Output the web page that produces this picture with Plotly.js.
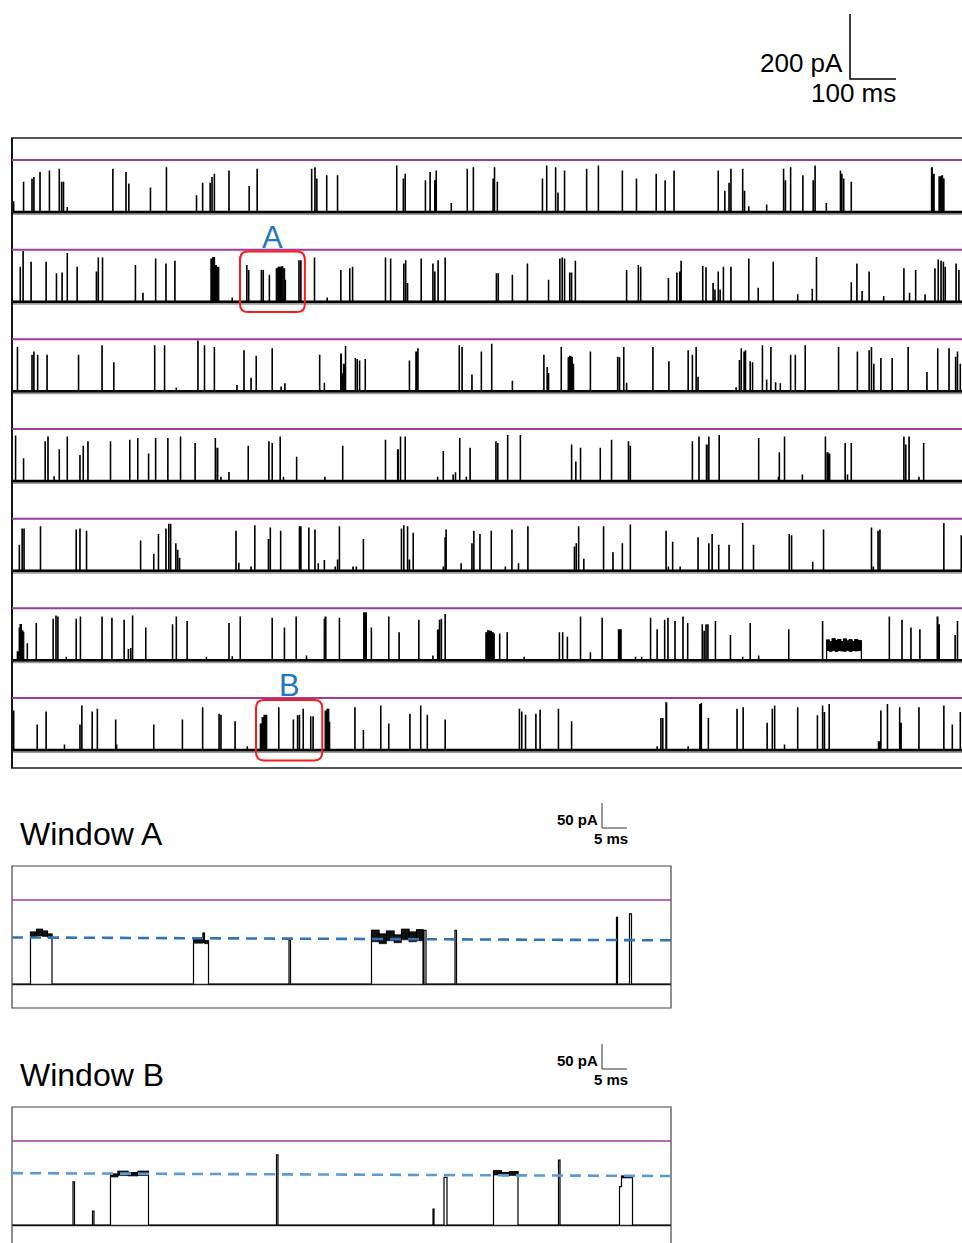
<!DOCTYPE html>
<html><head><meta charset="utf-8">
<script src="https://cdn.plot.ly/plotly-3.0.1.min.js"></script>
<style>html,body{margin:0;padding:0;background:#fff}#chart{width:962px;height:1243px}</style>
</head><body><div id="chart"></div>
<script>
// ---- DATA: channel openings: [start ms, amplitude pA, duration ms (default 1)]
const row1=[[1,31],[22,91],[40,101],[44,106],[57,121],[77,126],[98,131],[103,91],[107,91],[115,14],
[212,131],[240,121],[246,86],[292,74],[326,136],[390,50],[403,88],[419,88],[423,106],[428,116],
[459,126],[502,78],[519,131],[635,131],[642,136],[646,101],[667,111],[690,111],[816,141],[830,101],
[834,116],[877,96],[887,121],[897,96],[900,126],[932,26],[966,131],[979,136],[1021,101],[1024,136],
[1030,91],[1126,101],[1135,141],[1154,136],[1159,58],[1173,126],[1220,131],[1245,141],[1296,126],[1326,101],
[1368,116],[1387,96],[1406,126],[1500,126],[1514,64],[1523,88],[1527,131],[1552,131],[1556,64],[1565,16],
[1603,21],[1639,131],[1643,96],[1654,136],[1680,111],[1702,96],[1706,141],[1730,26],[1760,126],[1763,116],
[1767,101],[1783,91],[1954,136,2],[1957,116,3],[1970,108,3],[1973,108,3],[1976,111,2],[1979,101,2]];
const row2=[[15,106],[21,154],[38,121],[70,121],[92,86],[104,88],[115,148],[136,106],[177,91],[181,134],[190,134],
[260,111],[276,26],[303,131],[325,116],[344,124],
[421,131,4],[425,136,4],[429,111,4],[433,106,3],[436,106,2],
[466,11],[497,111],[501,96],[528,96],[532,96],[545,81],
[560,101,3],[564,106,3],[568,106,3],[571,108,3],[575,101,3],[579,66,1],
[608,126],[612,126],[641,134],[668,11],[697,96],[716,101],[722,106],[792,134],[803,131],
[831,116],[835,126],[839,56],[868,131],[893,116],[897,91],[904,126],[919,134],
[1028,86],[1032,86],[1062,81],[1094,116],[1139,66],[1163,131],[1168,134],[1173,131],[1184,88],[1188,88],[1196,124],
[1305,96],[1330,111],[1335,106],[1394,71],[1412,88],[1418,91],[1421,124],[1467,108],[1474,104],
[1489,56],[1493,36],[1500,91],[1504,36],[1511,106],[1527,106],[1565,131],[1585,41],[1617,121],[1669,21],
[1700,38],[1709,136],[1783,58],[1795,116],[1806,31],[1821,91],[1852,16],[1895,101],[1907,26],[1920,96],
[1940,21],[1961,101],[1968,128],[1974,124],[1979,121],[1983,106],[2006,116],[2012,96]];
const row3=[[9,135],[40,111],[44,121],[52,111],[72,111],[139,111],[189,140],[214,88],[301,140],[322,140],[347,10],
[393,155],[407,140],[428,135],[476,18],[491,125],[506,40],[517,108],[551,131],[570,13],[578,23],
[652,111],[662,25],[697,115,2],[701,53],[703,83,2],[707,138],[728,101],[732,98],[737,93],[749,98],
[843,93],[857,121,2],[861,131],[949,140],[955,135],[976,50],[996,121],[1018,145],[1062,31],
[1129,111],[1136,73],[1139,55],[1166,135],
[1181,103,3],[1184,108,3],[1187,105,3],[1190,83,3],
[1228,121],[1286,105],[1290,103],[1299,135],[1305,25],[1361,135],[1395,91],[1436,125],[1445,111],
[1453,135],[1457,43],[1538,11],[1545,95],[1549,131],[1555,121],[1558,125],[1568,91],[1573,88],
[1594,140],[1603,35],[1612,135],[1622,26],[1632,23],[1654,111],[1664,111],[1685,140],[1756,135],
[1796,121],[1821,125],[1826,135],[1831,83],[1846,101],[1870,101],[1904,135],[1944,58],[1967,131],
[1991,131],[2005,105],[2009,121],[2015,83]];
const row4=[[5,138],[22,68],[68,121],[74,135],[87,13],[98,96],[115,135],[142,78],[149,107],[159,121],[207,121],
[248,125],[265,131],[288,83],[303,131],[329,131],[356,135],[387,115],[430,131],[434,101,2],[442,11],
[459,26],[500,107],[544,121],[551,115],[568,135],[575,11],[603,73],[663,11],[701,107],[792,125],
[818,96,2],[824,135],[834,135],[903,11],[915,91],[936,18],[941,25],[950,131],[964,11],[972,101],
[1027,121],[1031,115],[1052,140],[1079,140],[1188,111],[1197,58],[1207,101],[1249,101],[1273,125],
[1309,121],[1313,107],[1445,121],[1459,135],[1475,111,2],[1480,135],[1502,140],[1586,131],[1628,11],
[1630,87],[1641,135],[1679,18],[1728,135],[1732,87,2],[1736,83,2],[1770,115],[1775,18],[1783,115],
[1895,135],[1899,111],[1906,135],[1927,11],[1937,115]];
const row5=[[13,78],[19,128],[23,128],[58,135],[134,125],[142,128],[156,121],[271,91],[299,50],[309,111],
[325,128],[331,143],[335,143],[346,83],[350,63],[354,38],[474,121],[480,23],[506,11],[514,138],
[543,96],[547,131],[569,121],[609,135],[612,135],[629,131],[642,125],[649,21],[662,31],[685,11],
[690,33],[694,135],[723,11],[730,11],[745,96],[826,128],[831,138],[839,135],[843,33],[851,115],
[915,11],[919,101],[921,125],[953,21],[976,83],[980,121],[993,111],[1017,121],[1047,11],[1061,125],
[1075,21],[1095,135],[1194,73],[1198,83],[1203,135],[1214,35],[1256,135],[1276,55],[1296,83],
[1313,140],[1389,121],[1394,11],[1403,87],[1419,11],[1457,101],[1480,83],[1487,111],[1501,78],
[1523,78],[1552,145],[1575,78],[1651,111],[1656,107],[1701,26],[1724,125],[1826,131],[1830,11],
[1840,121],[1844,125],[1980,145],[2017,107]];
const row6=[[9,26,2],[13,99,2],[15,110,3],[18,91,3],[21,86,2],[30,51],[49,113],[85,126],[91,136],[95,133],
[113,9],[134,126],[143,133],[189,133],[210,129],[236,123],[245,33],[250,36],[254,136],[282,99],
[339,109],[347,133],[370,119],[411,9],[459,113],[466,11],[483,133],[551,129],[577,99],[602,133],
[624,13],[662,126,2],[664,133,2],[694,129],[746,146,2],[750,146,2],[762,99],[799,133],[821,85],
[863,123],[893,13],[903,93,2],[907,123],[911,126],[919,141],
[1006,85,4],[1010,91,4],[1014,89,4],[1018,85,4],[1022,81,2],
[1035,81],[1051,85],[1087,9],[1162,85],[1169,85],[1179,71],[1207,133],[1228,23],[1253,129],
[1288,94,2],[1292,94,2],[1324,9],[1337,9],[1356,129],[1370,94],[1386,123],[1393,129],[1408,119],
[1425,133],[1435,113],[1466,109],[1470,89],[1474,109],[1478,109],[1494,119],[1526,76],[1552,9],
[1568,113],[1586,13],[1650,94],[1722,119],
[1864,133],[1891,123],[1910,99],[1929,94],[1966,133,2],[1970,109],[2004,76],[2009,119]];
// row 6 long sub-conductance opening: [start ms, noise top pA, duration ms, noise bottom pA]
const row6Sub=[[1731,62,6,30],[1737,58,6,28],[1743,66,6,31],[1749,60,6,27],[1755,64,6,30],[1761,57,6,29],
[1767,65,6,28],[1773,59,6,31],[1779,63,6,27],[1785,58,6,30],[1791,64,6,29],[1797,60,8,30]];
const row7=[[1,120],[51,77],[70,117],[109,15],[142,77],[146,135],[168,117],[179,125],[218,92],[220,15],
[299,77],[360,92],[403,130],[438,110],[442,107],[472,87],[498,10],
[526,80,4],[530,100,4],[534,107,4],[538,107,2],
[565,130],[596,92],[605,105],[609,107],[617,125],[633,102],[638,102],
[664,120,4],[668,125,4],[672,85,2],
[727,130],[745,60],[782,135],[799,80],[844,110],[867,135],[881,107],[919,92],[1077,125],[1082,117],
[1090,107],[1112,110],[1121,122],[1160,125],[1188,87],[1370,10],[1378,97],[1382,97],[1389,145,2],
[1436,10],[1461,140,2],[1464,143],[1479,97],[1540,125],[1553,130],[1604,82],[1615,125],[1620,135],
[1641,15],[1669,130],[1711,105],[1722,135],[1726,115],[1736,140],[1841,25,5],[1846,120],[1860,140],
[1886,130],[1889,82],[1927,130],[1980,135],[1998,77],[2015,115]];
// windows: [start ms, top pA, duration ms, noise bottom pA (open-state band, optional)]
const windowA=[[3.5,108,1.2,98],[4.7,114,1.2,100],[5.9,110,1.0,99],[6.9,104,0.9,97],
[36.1,92,1.9,85],[38.0,106,0.3,86],[38.3,90,0.8,84],[55.2,92,0.3],
[71.7,112,1.5,88],[73.2,104,1.5,84],[74.7,110,1.5,90],[76.2,102,1.5,86],[77.7,114,1.5,92],[79.2,108,1.5,88],[80.7,113,1.3,90],
[82.2,112,0.4],[88.4,112,0.3],[120.7,139,0.2],[123.3,146,0.4]];
const windowB=[[12.0,90,0.3],[15.9,29,0.3],
[19.5,106,1.5,100],[21.0,112,2.0,103],[23.0,109,2.0,102],[25.0,112,2.1,103],
[52.7,146,0.3],[84.0,33,0.2],[86.2,99,0.6],
[96.1,113,1.6,104],[97.7,109,1.6,102],[99.3,111,1.7,103],
[109.1,135,0.3],[121.3,80,0.4],[121.7,102,2.2,98]];
const rows=[row1,row2,row3,row4,row5,row6,row7];
const mainMaxLevel=160;      // pA, purple line
const windowMaxLevel=175;    // pA, purple line in windows
const levelA=[97,91];        // dashed open level, start/end
const levelB=[108,102];
const regionA={row:1,t0:483,t1:621};
const regionB={row:6,t0:517,t1:658};
const boxLabels=['A','B'];
const scaleMain=['200 pA','100 ms'];
const scaleWin=['50 pA','5 ms'];
const windowTitles=['Window A','Window B'];

// ---- layout helpers
const W=962,H=1243;
const px=x=>x/W, py=y=>1-y/H;
const ROW_STEP=275.9, T0=-2.1, T1=2019.1, WT0=-0.2, WT1=131.6;
function steps(ev,t0,t1,off,defDur){
  ev=ev.slice().sort((a,b)=>a[0]-b[0]);
  const xs=[t0],ys=[off];let prevEnd=-1e9;
  ev.forEach((e,i)=>{
    const t=e[0],a=e[1];let d=e[2]||defDur;const nx=ev[i+1];
    if(nx&&nx[0]<t+d)d=nx[0]-t;
    if(t>prevEnd+1e-6){xs.push(t);ys.push(off);}
    xs.push(t);ys.push(off+a);xs.push(t+d);ys.push(off+a);
    if(!nx||nx[0]>t+d+1e-6){xs.push(t+d);ys.push(off);}
    prevEnd=t+d;
  });
  xs.push(t1);ys.push(off);return {x:xs,y:ys};
}
function bands(ev,off){
  const xs=[],ys=[];
  ev.filter(e=>e.length>3).forEach(e=>{
    const t=e[0],a=e[1],d=e[2],b=e[3];
    xs.push(t,t+d,t+d,t,t,null);ys.push(off+a,off+a,off+b,off+b,off+a,null);
  });
  return {x:xs,y:ys};
}
const data=[];
rows.forEach((r,k)=>{
  const off=-k*ROW_STEP;
  data.push({x:[T0,T1],y:[off-3,off-3],mode:'lines',line:{color:'#9a9a9a',width:4},xaxis:'x',yaxis:'y'});
  data.push({x:[T0,T1],y:[off,off],mode:'lines',line:{color:'#000',width:2.5},xaxis:'x',yaxis:'y'});
  const s=steps(r,T0,T1,off,1);
  data.push({x:s.x,y:s.y,mode:'lines',line:{color:'#000',width:1.1},fill:'toself',fillcolor:'#000',xaxis:'x',yaxis:'y'});
});
{
  const off=-5*ROW_STEP;
  const s=steps(row6Sub,row6Sub[0][0],row6Sub[row6Sub.length-1][0]+row6Sub[row6Sub.length-1][2],off,1);
  data.push({x:s.x,y:s.y,mode:'lines',line:{color:'#000',width:1.2},xaxis:'x',yaxis:'y'});
  const b=bands(row6Sub,off);
  data.push({x:b.x,y:b.y,mode:'lines',line:{color:'#000',width:1},fill:'toself',fillcolor:'#000',xaxis:'x',yaxis:'y'});
}
[[windowA,'x2','y2'],[windowB,'x3','y3']].forEach(([w,xa,ya])=>{
  data.push({x:[WT0,WT1],y:[-1,-1],mode:'lines',line:{color:'#222',width:1.6},xaxis:xa,yaxis:ya});
  const s=steps(w,WT0,WT1,0,0.3);
  data.push({x:s.x,y:s.y,mode:'lines',line:{color:'#000',width:1.2},xaxis:xa,yaxis:ya});
  const b=bands(w,0);
  data.push({x:b.x,y:b.y,mode:'lines',line:{color:'#000',width:0.6},fill:'toself',fillcolor:'#111',xaxis:xa,yaxis:ya});
});

const shapes=[];
shapes.push({type:'rect',xref:'paper',yref:'paper',x0:px(12),x1:1.02,y0:py(768),y1:py(138),line:{color:'#555',width:2}});
shapes.push({type:'line',xref:'paper',yref:'paper',x0:px(12),x1:px(12),y0:py(768),y1:py(138),line:{color:'#000',width:1.5}});
rows.forEach((r,k)=>{
  shapes.push({type:'line',xref:'paper',yref:'y',x0:px(12),x1:1.01,y0:mainMaxLevel-k*ROW_STEP,y1:mainMaxLevel-k*ROW_STEP,line:{color:'#9b3d9b',width:2}});
});
shapes.push({type:'rect',xref:'paper',yref:'paper',x0:px(12),x1:px(671),y0:py(1008),y1:py(866),line:{color:'#444',width:1.2}});
shapes.push({type:'rect',xref:'paper',yref:'paper',x0:px(12),x1:px(671),y0:py(1260),y1:py(1107),line:{color:'#444',width:1.2}});
shapes.push({type:'line',xref:'x2',yref:'y2',x0:WT0,x1:WT1,y0:windowMaxLevel,y1:windowMaxLevel,line:{color:'#9b3d9b',width:1.5}});
shapes.push({type:'line',xref:'x3',yref:'y3',x0:WT0,x1:WT1,y0:windowMaxLevel,y1:windowMaxLevel,line:{color:'#9b3d9b',width:1.5}});
shapes.push({type:'line',xref:'x2',yref:'y2',x0:WT0,x1:WT1,y0:levelA[0],y1:levelA[1],line:{color:'#2e75b6',width:2.6,dash:'11px,7px'}});
shapes.push({type:'line',xref:'x3',yref:'y3',x0:WT0,x1:WT1,y0:levelB[0],y1:levelB[1],line:{color:'#5b9bd5',width:2.6,dash:'11px,7px'}});
shapes.push({type:'path',xref:'paper',yref:'paper',path:`M ${px(850)} ${py(14)} L ${px(850)} ${py(79)} L ${px(896)} ${py(79)}`,line:{color:'#000',width:1.5}});
[0,241].forEach(d=>{
  shapes.push({type:'path',xref:'paper',yref:'paper',path:`M ${px(602)} ${py(803+d)} L ${px(602)} ${py(828+d)} L ${px(627)} ${py(828+d)}`,line:{color:'#333',width:1}});
});
function rbox(reg){
  const off=-reg.row*ROW_STEP, y0=off-32, y1=off+154, x0=reg.t0, x1=reg.t1, rx=17, ry=25;
  return `M ${x0+rx} ${y1} L ${x1-rx} ${y1} Q ${x1} ${y1} ${x1} ${y1-ry} L ${x1} ${y0+ry} Q ${x1} ${y0} ${x1-rx} ${y0} L ${x0+rx} ${y0} Q ${x0} ${y0} ${x0} ${y0+ry} L ${x0} ${y1-ry} Q ${x0} ${y1} ${x0+rx} ${y1} Z`;
}
[regionA,regionB].forEach(reg=>shapes.push({type:'path',xref:'x',yref:'y',path:rbox(reg),line:{color:'#ff1a1a',width:2}}));

const F='Liberation Sans, Arial, sans-serif';
const FN='Liberation Sans Narrow, Arial Narrow, Liberation Sans, sans-serif';
const annotations=[];
[regionA,regionB].forEach((reg,i)=>annotations.push({xref:'x',yref:'y',x:(reg.t0+reg.t1)/2,y:-reg.row*ROW_STEP+198,text:boxLabels[i],showarrow:false,font:{family:F,size:31,color:'#1f78c4'},xanchor:'center',yanchor:'middle'}));
annotations.push({xref:'paper',yref:'paper',x:px(845),y:py(63),text:scaleMain[0],showarrow:false,xanchor:'right',yanchor:'middle',font:{family:F,size:26,color:'#000'}});
annotations.push({xref:'paper',yref:'paper',x:px(898),y:py(93),text:scaleMain[1],showarrow:false,xanchor:'right',yanchor:'middle',font:{family:F,size:26,color:'#000'}});
[0,241].forEach((d,i)=>{
  annotations.push({xref:'paper',yref:'paper',x:px(18),y:py(834+d),text:windowTitles[i],showarrow:false,xanchor:'left',yanchor:'middle',font:{family:F,size:32,color:'#000'}});
  annotations.push({xref:'paper',yref:'paper',x:px(600),y:py(819+d),text:'<b>'+scaleWin[0]+'</b>',showarrow:false,xanchor:'right',yanchor:'middle',font:{family:FN,size:15,color:'#000'}});
  annotations.push({xref:'paper',yref:'paper',x:px(630),y:py(838+d),text:'<b>'+scaleWin[1]+'</b>',showarrow:false,xanchor:'right',yanchor:'middle',font:{family:FN,size:15,color:'#000'}});
});

const hid={visible:false,fixedrange:true};
const layout={
  width:W,height:H,margin:{l:0,r:0,t:0,b:0},paper_bgcolor:'#fff',plot_bgcolor:'rgba(0,0,0,0)',showlegend:false,
  xaxis:Object.assign({domain:[px(12),1],range:[T0,T1]},hid),
  yaxis:Object.assign({domain:[py(768),py(138)],range:[-6*ROW_STEP-(768-750)/0.325,(212-138)/0.325]},hid),
  xaxis2:Object.assign({domain:[px(12),px(671)],range:[WT0,WT1],anchor:'y2'},hid),
  yaxis2:Object.assign({domain:[py(1008),py(866)],range:[-50,245.8],anchor:'x2'},hid),
  xaxis3:Object.assign({domain:[px(12),px(671)],range:[WT0,WT1],anchor:'y3'},hid),
  yaxis3:Object.assign({domain:[0,py(1107)],range:[-37.5,245.8],anchor:'x3'},hid),
  shapes,annotations
};
Plotly.newPlot('chart',data,layout,{staticPlot:true,displayModeBar:false});
</script></body></html>
